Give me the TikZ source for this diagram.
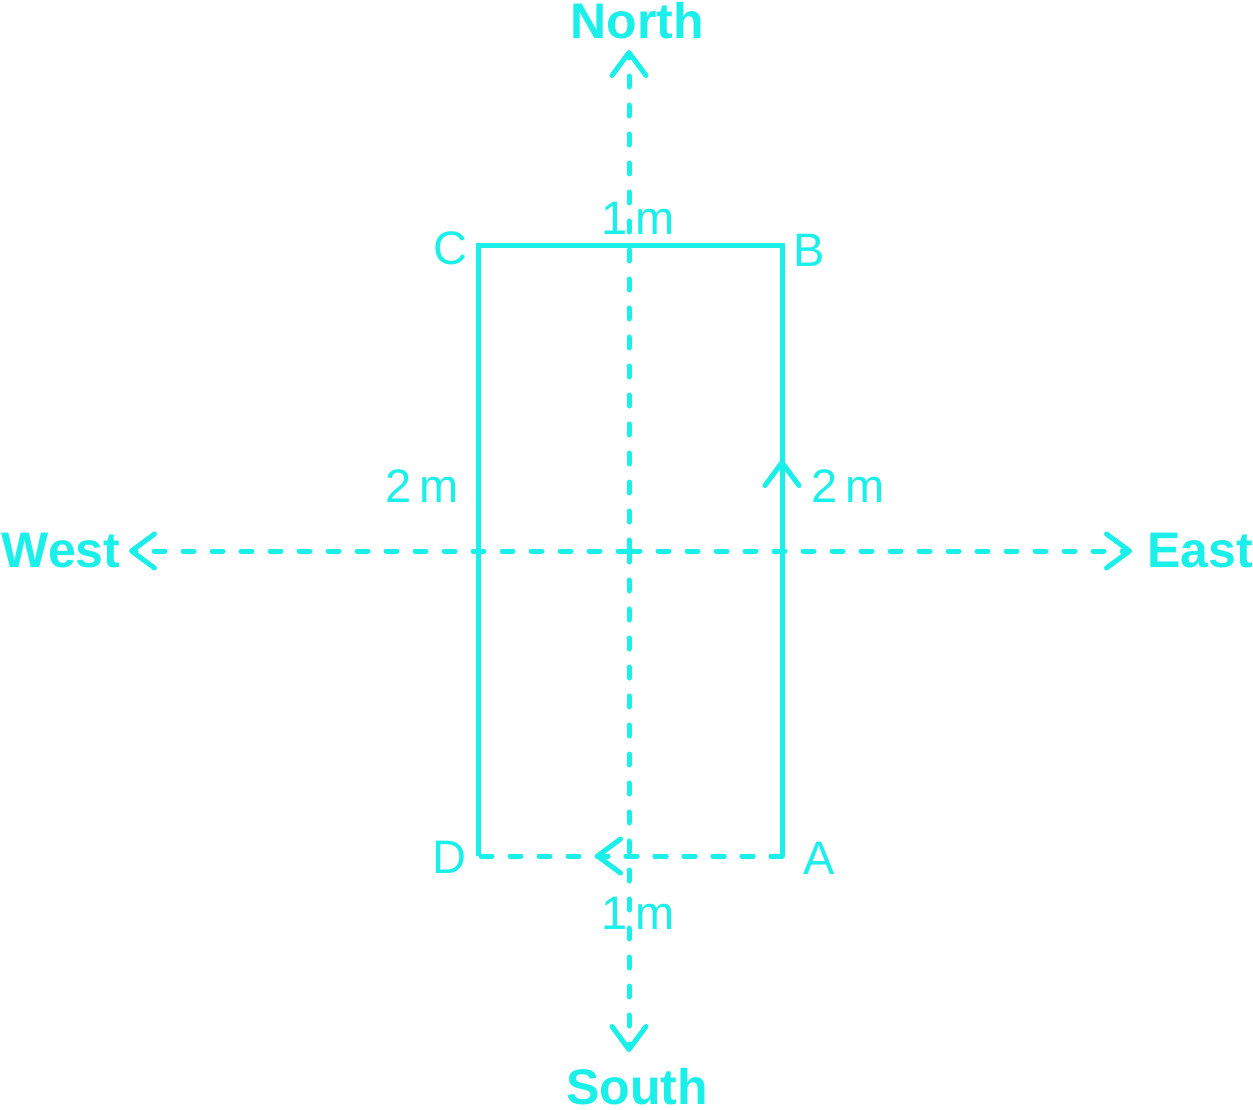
\documentclass[tikz,border=0pt]{standalone}
\usepackage{fontspec}
\setmainfont{Liberation Sans}
\usetikzlibrary{arrows.meta}
\definecolor{cy}{HTML}{1BEFE9}
\begin{document}
\begin{tikzpicture}[x=1pt,y=-1pt,
  ln/.style={draw=cy,line width=5pt,line cap=round},
  dsh/.style={ln,dash pattern=on 11pt off 18pt},
  tip/.style={-{Straight Barb[length=23pt,width=34pt,line width=5pt,round]}},
  lab/.style={text=cy,font=\fontsize{47}{47}\selectfont,inner sep=0pt},
  dir/.style={text=cy,font=\fontsize{50}{50}\selectfont\bfseries,inner sep=0pt}]
\useasboundingbox (0,0) rectangle (1253,1110);
\coordinate (C) at (478,246);
\coordinate (B) at (782,246);
\coordinate (D) at (478,856);
\coordinate (A) at (782,856);
\coordinate (mAB) at (782,460);
\coordinate (mDA) at (595,856);
\coordinate (center) at (629,551);
\coordinate (N) at (629,50);
\coordinate (S) at (629,1052);
\coordinate (W) at (129,551);
\coordinate (E) at (1132,551);
% axes
\draw[dsh,tip] (center) -- (N);
\draw[dsh,tip] (center) -- (S);
\draw[dsh,tip] (center) -- (W);
\draw[dsh,tip] (center) -- (E);
% rectangle
\draw[ln,line cap=butt] (D) -- (C) -- (B) -- (A);
\draw[ln,tip] (A) -- (mAB);
\draw[dsh] (A) -- (D);
\draw[dsh,tip] (A) -- (mDA);
% labels
\node[dir] (north) at (637,21) {North};
\node[dir] (south) at (637,1087) {South};
\node[dir] (west) at (61,551) {West};
\node[dir] (east) at (1200,551) {East};
\node[lab] (lC) at (450,248) {C};
\node[lab] (lB) at (809,250) {B};
\node[lab] (lD) at (449,857) {D};
\node[lab] (lA) at (819,858) {A};
\node[lab] (t1) at (638,218) {1\,m};
\node[lab] (l2) at (422,486) {2\,m};
\node[lab] (r2) at (848,486) {2\,m};
\node[lab] (b1) at (638,913) {1\,m};
\end{tikzpicture}
\end{document}
